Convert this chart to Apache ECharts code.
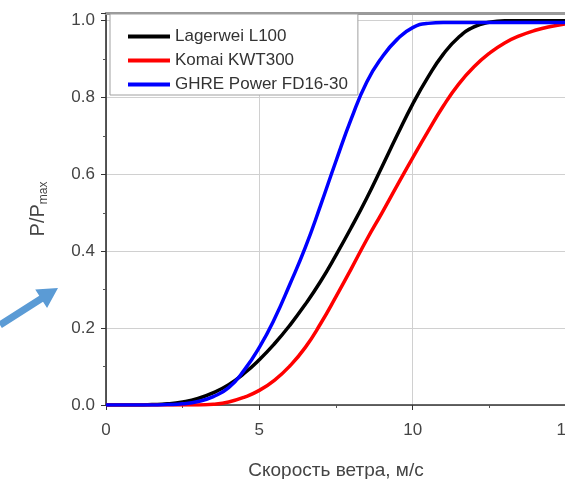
<!DOCTYPE html>
<html>
<head>
<meta charset="utf-8">
<script src="https://cdn.jsdelivr.net/npm/echarts@6/dist/echarts.min.js"></script>
<style>
html,body{margin:0;padding:0;background:#fff;}
#chart{width:565px;height:479px;}
</style>
</head>
<body>
<div id="chart"></div>
<script>
// Wind speed, m/s
const windSpeed = [0,0.5,1,1.5,2,2.5,3,3.5,4,4.5,5,5.5,6,6.5,7,7.5,8,8.5,9,9.5,10,10.5,11,11.5,12,12.5,13,13.5,14,14.5,15];
// P/Pmax curves
const lagerweiL100 = [0,0,0,0.001,0.003,0.008,0.017,0.032,0.053,0.082,0.118,0.16,0.208,0.262,0.322,0.39,0.462,0.538,0.62,0.703,0.783,0.853,0.913,0.957,0.984,0.996,1.0,1.0,1.0,1.0,1.0];
const komaiKWT300 = [0,0,0,0,0,0,0,0.002,0.008,0.02,0.038,0.065,0.102,0.15,0.212,0.282,0.355,0.43,0.5,0.572,0.643,0.712,0.778,0.835,0.88,0.915,0.942,0.961,0.975,0.985,0.992];
const ghreFD1630 = [0,0,0,0,0.001,0.003,0.009,0.022,0.045,0.09,0.15,0.225,0.315,0.41,0.52,0.635,0.745,0.84,0.905,0.952,0.982,0.993,0.995,0.995,0.995,0.995,0.995,0.995,0.995,0.995,0.995];
const seriesNames = ['Lagerwei L100','Komai KWT300','GHRE Power FD16-30'];
const seriesColors = ['#000000','#ff0000','#0000ff'];
const xTicks = [0,5,10,15];
const yTicks = [0,0.2,0.4,0.6,0.8,1.0];

const FONT = '"Liberation Sans", Arial, sans-serif';
const pairs = arr => windSpeed.map((x,i)=>[x,arr[i]]);
const allData = [lagerweiL100, komaiKWT300, ghreFD1630];

const chart = echarts.init(document.getElementById('chart'), null, {renderer:'canvas'});

// arrow geometry (decoration)
const tail=[0,325], tip=[58,288];
const dx=tip[0]-tail[0], dy=tip[1]-tail[1], L=Math.hypot(dx,dy);
const u=[dx/L,dy/L], n=[-u[1],u[0]];
const base=[tip[0]-20*u[0], tip[1]-20*u[1]];
const P=(p,k)=>[p[0]+k*n[0], p[1]+k*n[1]];
const arrowPts=[P(tail,3.5),P(base,3.5),P(base,11),tip,P(base,-11),P(base,-3.5),P(tail,-3.5)];

chart.setOption({
  animation:false,
  backgroundColor:'#ffffff',
  grid:{left:106,right:-1,top:13,bottom:74,outerBoundsMode:'none',containLabel:false},
  legend:{
    orient:'vertical', left:110, top:14,
    data:seriesNames,
    icon:'rect', itemWidth:42, itemHeight:4, itemGap:7,
    backgroundColor:'#ffffff', borderColor:'#a0a0a0', borderWidth:1,
    padding:[14,10,2,18],
    textStyle:{fontFamily:FONT,fontSize:17,color:'#333',lineHeight:17}
  },
  xAxis:[{
    type:'value', min:0, max:15, interval:5,
    axisLine:{show:true,onZero:false,lineStyle:{color:'#333',width:1.5}},
    axisTick:{show:true,inside:false,length:5,lineStyle:{color:'#333'}},
    minorTick:{show:true,splitNumber:2,length:3,lineStyle:{color:'#555'}},
    splitLine:{show:true,lineStyle:{color:'#d0d0d0',width:1}},
    axisLabel:{fontFamily:FONT,fontSize:17,color:'#444',margin:17,
      formatter:v=>xTicks.includes(v)?String(v):''},
    name:'Скорость ветра, м/с', nameLocation:'middle', nameGap:56,
    nameTextStyle:{fontFamily:FONT,fontSize:19,color:'#444'}
  },{
    type:'value', min:0, max:15, position:'top',
    axisLine:{show:true,onZero:false,lineStyle:{color:'#9a9a9a',width:3}},
    axisTick:{show:false}, axisLabel:{show:false}, splitLine:{show:false}
  }],
  yAxis:{
    type:'value', min:0, max:1.02, interval:0.2,
    axisLine:{show:true,onZero:false,lineStyle:{color:'#222',width:1.5}},
    axisTick:{show:true,inside:false,length:5,lineStyle:{color:'#333'}},
    minorTick:{show:true,splitNumber:2,length:3,lineStyle:{color:'#555'}},
    splitLine:{show:true,lineStyle:{color:'#d0d0d0',width:1}},
    axisLabel:{fontFamily:FONT,fontSize:17,color:'#444',margin:11,showMaxLabel:false,
      formatter:v=>{const t=yTicks.find(k=>Math.abs(k-v)<1e-6);return t===undefined?'':t.toFixed(1);}},
    name:'{a|P/P}{b|max}', nameLocation:'middle', nameGap:56,
    nameTextStyle:{rich:{
      a:{fontFamily:FONT,fontSize:20,color:'#444'},
      b:{fontFamily:FONT,fontSize:12,color:'#444',padding:[12,0,0,0]}
    }}
  },
  series: seriesNames.map((nm,i)=>({
    name:nm, type:'line', xAxisIndex:0, data:pairs(allData[i]),
    showSymbol:false, smooth:0.5,
    lineStyle:{width:3.5,color:seriesColors[i]},
    itemStyle:{color:seriesColors[i]}, z:2+i
  })),
  graphic:[{
    type:'polygon', shape:{points:arrowPts},
    style:{fill:'#5b9bd5'}, z:100
  }]
});
</script>
</body>
</html>
